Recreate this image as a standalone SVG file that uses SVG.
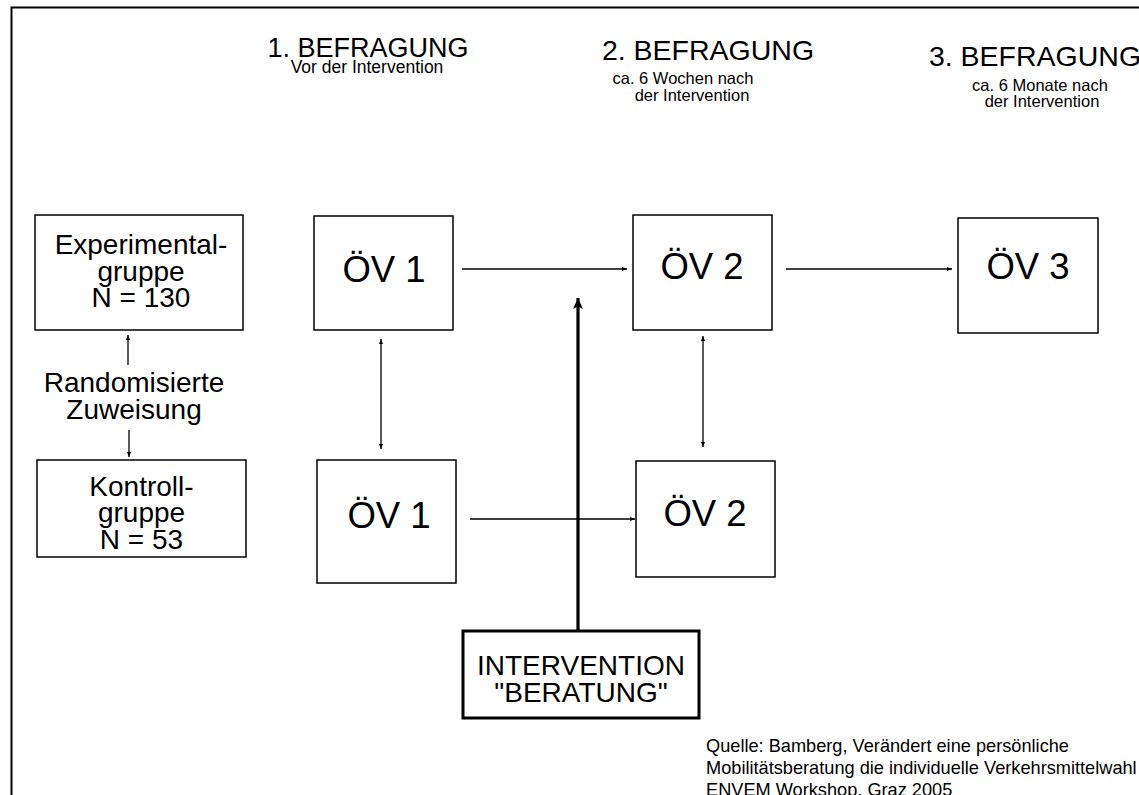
<svg xmlns="http://www.w3.org/2000/svg" width="1139" height="795" viewBox="0 0 1139 795">
<defs>
<style>
text{font-family:"Liberation Sans",Arial,sans-serif;fill:#000;text-anchor:middle}
.box{fill:#fff;stroke:#000;stroke-width:1.5}
.thick{fill:#fff;stroke:#000;stroke-width:3}
.lbl{font-size:28px}
.ov{font-size:36.5px}
.hd{font-size:27px}
.hd2{font-size:28.5px}
.sub{font-size:16.5px}
.src{font-size:18.2px;text-anchor:start}
.ln{stroke:#000;stroke-width:1.3;fill:none}
</style>
<marker id="a" viewBox="0 0 10 10" refX="10" refY="5" markerWidth="5" markerHeight="5" markerUnits="userSpaceOnUse" orient="auto-start-reverse"><path d="M0,1 L10,5 L0,9 Z" fill="#000"/></marker>
<marker id="big" viewBox="0 0 10 10" refX="10" refY="5" markerWidth="11" markerHeight="11" markerUnits="userSpaceOnUse" orient="auto"><path d="M0,0.5 L10,5 L0,9.5 L2.5,5 Z" fill="#000"/></marker>
</defs>
<rect x="0" y="0" width="1139" height="795" fill="#fff"/>
<rect x="11.5" y="7.5" width="1150" height="800" fill="none" stroke="#000" stroke-width="2"/>

<g id="headers">
<text class="hd" x="368" y="57">1. BEFRAGUNG</text>
<text class="sub" x="367" y="73" style="font-size:17.5px">Vor der Intervention</text>
<text class="hd2" x="708" y="60">2. BEFRAGUNG</text>
<text class="sub" x="683" y="84">ca. 6 Wochen nach</text>
<text class="sub" x="692" y="101">der Intervention</text>
<text class="hd2" x="1035" y="66">3. BEFRAGUNG</text>
<text class="sub" x="1040" y="91">ca. 6 Monate nach</text>
<text class="sub" x="1042" y="107">der Intervention</text>
</g>

<g id="connectors">
<line class="ln" x1="128" y1="365" x2="128" y2="335" marker-end="url(#a)"/>
<line class="ln" x1="129" y1="430" x2="129" y2="457" marker-end="url(#a)"/>
<line class="ln" x1="462" y1="269" x2="627" y2="269" marker-end="url(#a)"/>
<line class="ln" x1="470" y1="519" x2="635" y2="519" marker-end="url(#a)"/>
<line class="ln" x1="786" y1="269" x2="952" y2="269" marker-end="url(#a)"/>
<line class="ln" x1="381" y1="339" x2="381" y2="449" marker-start="url(#a)" marker-end="url(#a)"/>
<line class="ln" x1="703" y1="336" x2="703" y2="447" marker-start="url(#a)" marker-end="url(#a)"/>
<line x1="578" y1="631" x2="578" y2="298" stroke="#000" stroke-width="3.2" marker-end="url(#big)"/>
</g>

<g id="experimental">
<rect class="box" x="35" y="215" width="208" height="115"/>
<text class="lbl" x="141" y="254">Experimental-</text>
<text class="lbl" x="141" y="281">gruppe</text>
<text class="lbl" x="141" y="307">N = 130</text>
</g>
<g id="randomisierung">
<text class="lbl" x="134" y="392">Randomisierte</text>
<text class="lbl" x="134" y="419">Zuweisung</text>
</g>
<g id="kontroll">
<rect class="box" x="37" y="460" width="209" height="97"/>
<text class="lbl" x="141.5" y="496">Kontroll-</text>
<text class="lbl" x="141.5" y="522">gruppe</text>
<text class="lbl" x="141.5" y="549">N = 53</text>
</g>
<g id="ov1-exp">
<rect class="box" x="314" y="216" width="139" height="114"/>
<text class="ov" x="384" y="282">ÖV 1</text>
</g>
<g id="ov1-kon">
<rect class="box" x="317" y="460" width="139" height="123"/>
<text class="ov" x="389" y="528">ÖV 1</text>
</g>
<g id="ov2-exp">
<rect class="box" x="633" y="215" width="139" height="115"/>
<text class="ov" x="702" y="279">ÖV 2</text>
</g>
<g id="ov2-kon">
<rect class="box" x="636" y="461" width="139" height="116"/>
<text class="ov" x="705" y="526">ÖV 2</text>
</g>
<g id="ov3-exp">
<rect class="box" x="958" y="218" width="140" height="115"/>
<text class="ov" x="1028" y="279">ÖV 3</text>
</g>
<g id="intervention">
<rect class="thick" x="463" y="631" width="236" height="87"/>
<text class="lbl" x="581" y="675">INTERVENTION</text>
<text class="lbl" x="581" y="702">"BERATUNG"</text>
</g>
<g id="quelle">
<text class="src" x="706" y="752">Quelle: Bamberg, Verändert eine persönliche</text>
<text class="src" x="706" y="774">Mobilitätsberatung die individuelle Verkehrsmittelwahl</text>
<text class="src" x="706" y="796"> ENVEM Workshop, Graz 2005</text>
</g>
</svg>
